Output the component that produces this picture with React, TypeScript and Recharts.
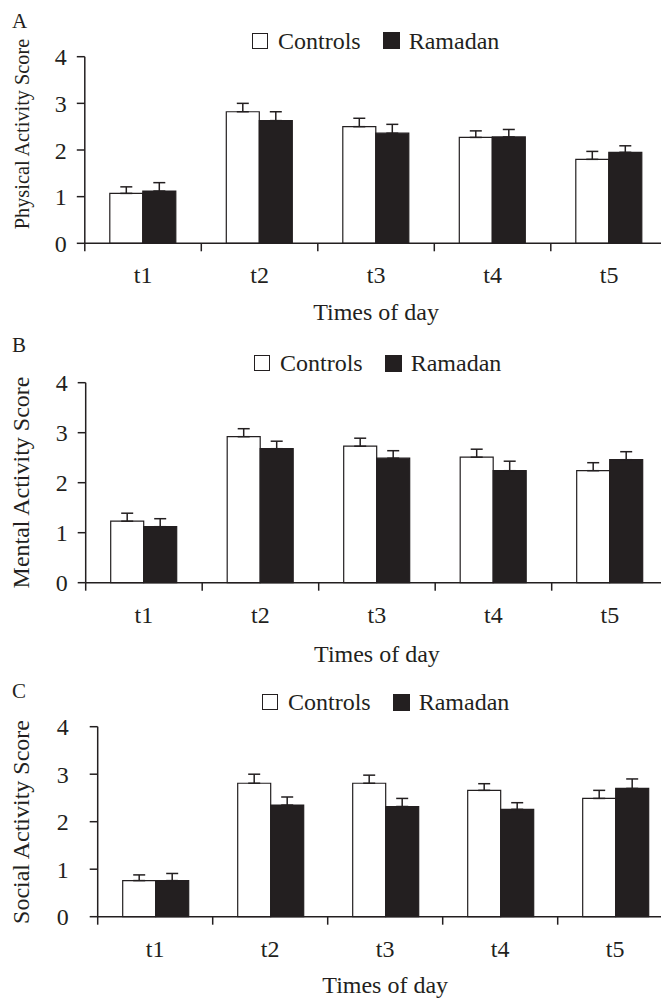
import React from 'react';
import { BarChart, Bar, XAxis, YAxis, ErrorBar, Legend } from 'recharts';

const categories = ['t1', 't2', 't3', 't4', 't5'];
const yTicks = [0, 1, 2, 3, 4];
const seriesNames = ['Controls', 'Ramadan'];
const xTitle = 'Times of day';

const physicalControls = [1.07, 2.82, 2.5, 2.27, 1.8];
const physicalControlsErr = [0.14, 0.18, 0.18, 0.14, 0.17];
const physicalRamadan = [1.12, 2.63, 2.36, 2.28, 1.95];
const physicalRamadanErr = [0.18, 0.19, 0.19, 0.16, 0.14];

const mentalControls = [1.23, 2.92, 2.73, 2.51, 2.24];
const mentalControlsErr = [0.16, 0.16, 0.16, 0.16, 0.16];
const mentalRamadan = [1.12, 2.68, 2.49, 2.24, 2.46];
const mentalRamadanErr = [0.16, 0.15, 0.15, 0.19, 0.16];

const socialControls = [0.76, 2.81, 2.81, 2.66, 2.49];
const socialControlsErr = [0.12, 0.19, 0.17, 0.14, 0.17];
const socialRamadan = [0.76, 2.35, 2.32, 2.26, 2.7];
const socialRamadanErr = [0.15, 0.17, 0.17, 0.14, 0.2];

const INK = '#231f20';
const FONT = '"Liberation Serif", "Times New Roman", Times, serif';

function buildRows(c: number[], ce: number[], r: number[], re: number[]) {
  return categories.map((name, i) => ({
    name,
    controls: c[i],
    controlsErr: [0, ce[i]],
    ramadan: r[i],
    ramadanErr: [0, re[i]],
  }));
}

type PanelProps = {
  rows: any[];
  pageTop: number;
  height: number;
  plotLeft: number;
  plotTop: number;
  plotH: number;
  plotW: number;
  letter: string;
  letterY: number;
  yTitle: string;
  yTitleSize: number;
  yTitleCY: number;
  yTickMargin: number;
  legendLeft: number;
  legendTop: number;
  xTitleY: number;
};

const TICK = 8;
const X_TICK_MARGIN = 15;

function Panel(p: PanelProps) {
  const width = p.plotLeft + p.plotW;
  const xAxisH = 40;
  const marginBottom = p.height - p.plotTop - p.plotH - xAxisH;
  const bandW = p.plotW / categories.length;

  const xTick = (props: any) => {
    const { x, y, payload } = props;
    const axisY = y - TICK - X_TICK_MARGIN;
    const bx = x - bandW / 2;
    return (
      <g>
        <line x1={bx} x2={bx} y1={axisY} y2={axisY + TICK} stroke={INK} strokeWidth={1.5} />
        <text x={x} y={y} dy="0.71em" textAnchor="middle" fontSize={24} fontFamily={FONT} fill={INK}>
          {payload.value}
        </text>
      </g>
    );
  };

  const legendContent = () => (
    <div
      style={{
        display: 'flex',
        alignItems: 'center',
        fontFamily: FONT,
        fontSize: 24,
        lineHeight: '24px',
        color: INK,
        whiteSpace: 'nowrap',
        height: 24,
      }}
    >
      <span style={{ display: 'inline-block', width: 14, height: 14, border: `1.5px solid ${INK}`, background: '#fff', marginRight: 10 }} />
      <span>{seriesNames[0]}</span>
      <span style={{ display: 'inline-block', width: 15, height: 15, border: `1px solid ${INK}`, background: INK, marginLeft: 22, marginRight: 9 }} />
      <span>{seriesNames[1]}</span>
    </div>
  );

  return (
    <div style={{ position: 'absolute', left: 0, top: p.pageTop, width, height: p.height }}>
      <BarChart
        width={width}
        height={p.height}
        data={p.rows}
        margin={{ top: p.plotTop, right: 0, bottom: marginBottom, left: 0 }}
        barGap={0}
      >
        <XAxis
          dataKey="name"
          type="category"
          height={xAxisH}
          axisLine={{ stroke: INK, strokeWidth: 1.5 }}
          tickLine={false}
          tickSize={TICK}
          tickMargin={X_TICK_MARGIN}
          tick={xTick}
          interval={0}
          label={() => (
            <text x={p.plotLeft + p.plotW / 2} y={p.xTitleY} textAnchor="middle" fontSize={24} fontFamily={FONT} fill={INK}>
              {xTitle}
            </text>
          )}
        />
        <YAxis
          type="number"
          domain={[0, 4]}
          ticks={yTicks}
          width={p.plotLeft}
          axisLine={{ stroke: INK, strokeWidth: 1.5 }}
          tickLine={{ stroke: INK, strokeWidth: 1.5 }}
          tickSize={TICK}
          tickMargin={p.yTickMargin}
          tick={{ fontSize: 24, fontFamily: FONT, fill: INK }}
          label={() => (
            <g>
              <text x={12} y={p.letterY} fontSize={21} fontFamily={FONT} fill={INK}>
                {p.letter}
              </text>
              <text
                x={29}
                y={p.yTitleCY}
                transform={`rotate(-90 29 ${p.yTitleCY})`}
                textAnchor="middle"
                fontSize={p.yTitleSize}
                fontFamily={FONT}
                fill={INK}
              >
                {p.yTitle}
              </text>
            </g>
          )}
        />
        <Legend
          layout="horizontal"
          verticalAlign="middle"
          align="center"
          content={legendContent}
          wrapperStyle={{ left: p.legendLeft, top: p.legendTop, width: 'auto', height: 24 }}
        />
        <Bar dataKey="controls" name={seriesNames[0]} fill="#ffffff" stroke={INK} strokeWidth={1.2} barSize={33} isAnimationActive={false}>
          <ErrorBar dataKey="controlsErr" width={6} stroke={INK} strokeWidth={1.5} direction="y" />
        </Bar>
        <Bar dataKey="ramadan" name={seriesNames[1]} fill={INK} stroke={INK} strokeWidth={1.2} barSize={33} isAnimationActive={false}>
          <ErrorBar dataKey="ramadanErr" width={6} stroke={INK} strokeWidth={1.5} direction="y" />
        </Bar>
      </BarChart>
    </div>
  );
}

export default function App() {
  const physical = buildRows(physicalControls, physicalControlsErr, physicalRamadan, physicalRamadanErr);
  const mental = buildRows(mentalControls, mentalControlsErr, mentalRamadan, mentalRamadanErr);
  const social = buildRows(socialControls, socialControlsErr, socialRamadan, socialRamadanErr);

  return (
    <div style={{ position: 'absolute', left: 0, top: 0, width: 661, height: 998, overflow: 'hidden', background: '#fff' }}>
      <Panel
        rows={physical}
        pageTop={0}
        height={330}
        plotLeft={84.8}
        plotTop={56.7}
        plotH={186.6}
        plotW={582.5}
        letter="A"
        letterY={28}
        yTitle="Physical Activity Score"
        yTitleSize={20.3}
        yTitleCY={134}
        yTickMargin={10}
        legendLeft={252}
        legendTop={28.7}
        xTitleY={320.3}
      />
      <Panel
        rows={mental}
        pageTop={330}
        height={340}
        plotLeft={85.7}
        plotTop={52.7}
        plotH={200}
        plotW={582.5}
        letter="B"
        letterY={22}
        yTitle="Mental Activity Score"
        yTitleSize={24}
        yTitleCY={152.5}
        yTickMargin={10}
        legendLeft={254}
        legendTop={21}
        xTitleY={332.3}
      />
      <Panel
        rows={social}
        pageTop={660}
        height={338}
        plotLeft={97.7}
        plotTop={66.7}
        plotH={190}
        plotW={575}
        letter="C"
        letterY={38}
        yTitle="Social Activity Score"
        yTitleSize={24}
        yTitleCY={162}
        yTickMargin={21}
        legendLeft={262}
        legendTop={30}
        xTitleY={333.3}
      />
    </div>
  );
}
